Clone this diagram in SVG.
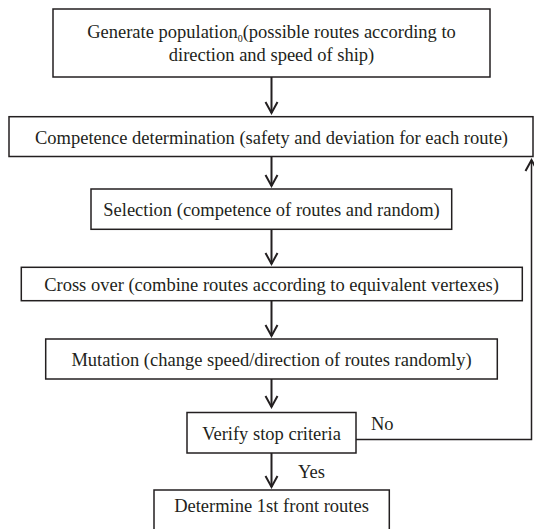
<svg xmlns="http://www.w3.org/2000/svg" width="534" height="529" viewBox="0 0 534 529">
<style>
.box{fill:#ffffff;stroke:#231f20;stroke-width:1.5}
.t{font-family:"Liberation Serif","Times New Roman",serif;font-size:18.5px;fill:#231f20;text-anchor:middle}
.lbl{font-family:"Liberation Serif","Times New Roman",serif;font-size:18.5px;fill:#231f20}
.c{fill:none;stroke:#231f20;stroke-width:2}
.fb{fill:none;stroke:#231f20;stroke-width:1.5}
</style>
<defs>
<marker id="ah" markerUnits="userSpaceOnUse" markerWidth="20" markerHeight="20" refX="0" refY="0" orient="auto" overflow="visible" viewBox="-14 -10 16 20">
<path d="M-11,-6 L0,0 L-11,6" fill="none" stroke="#231f20" stroke-width="2"/>
</marker>
</defs>
<rect width="534" height="529" fill="#ffffff"/>
<g id="connectors">
<path class="c" d="M271.5,77 V113" marker-end="url(#ah)"/>
<path class="c" d="M271.5,156.5 V186" marker-end="url(#ah)"/>
<path class="c" d="M271.5,229.3 V264" marker-end="url(#ah)"/>
<path class="c" d="M271.5,300.7 V336" marker-end="url(#ah)"/>
<path class="c" d="M271.5,379 V407" marker-end="url(#ah)"/>
<path class="c" d="M271.5,453 V487" marker-end="url(#ah)"/>
<path class="fb" d="M356,439.5 H531.5 V160" marker-end="url(#ah)"/>
<text class="lbl" x="371" y="430">No</text>
<text class="lbl" x="298" y="478">Yes</text>
</g>
<g id="n1">
<rect class="box" x="53" y="9" width="437" height="68"/>
<text class="t" x="271.5" y="38">Generate population<tspan font-size="10" dy="4">0</tspan><tspan dy="-4">(possible routes according to</tspan></text>
<text class="t" x="271.5" y="61">direction and speed of ship)</text>
</g>
<g id="n2">
<rect class="box" x="9" y="116.7" width="524" height="39.8"/>
<text class="t" x="271.5" y="143.5">Competence determination (safety and deviation for each route)</text>
</g>
<g id="n3">
<rect class="box" x="91" y="189" width="360.7" height="40.3"/>
<text class="t" x="271.5" y="216">Selection (competence of routes and random)</text>
</g>
<g id="n4">
<rect class="box" x="21.3" y="267.3" width="501" height="33.4"/>
<text class="t" x="271.5" y="291">Cross over (combine routes according to equivalent vertexes)</text>
</g>
<g id="n5">
<rect class="box" x="45.7" y="339" width="451.6" height="40"/>
<text class="t" x="271.5" y="366">Mutation (change speed/direction of routes randomly)</text>
</g>
<g id="n6">
<rect class="box" x="187" y="412.5" width="169" height="40.5"/>
<text class="t" x="271.5" y="440">Verify stop criteria</text>
</g>
<g id="n7">
<rect class="box" x="154" y="490" width="235.3" height="45"/>
<text class="t" x="271.5" y="511.7">Determine 1st front routes</text>
</g>
</svg>
